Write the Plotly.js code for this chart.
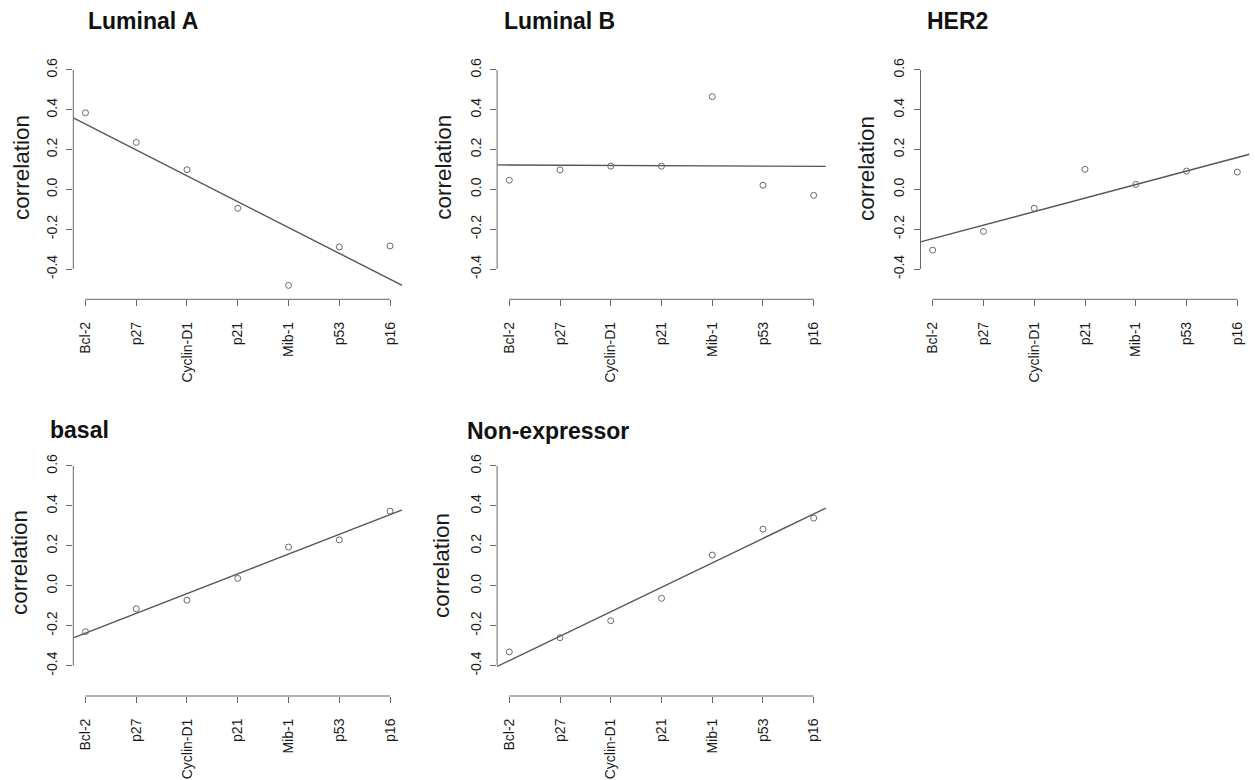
<!DOCTYPE html>
<html>
<head>
<meta charset="utf-8">
<script src="https://cdn.plot.ly/plotly-3.0.1.min.js"></script>
<style>html,body{margin:0;padding:0;background:#fff;}#chart{width:1255px;height:780px;}</style>
</head>
<body>
<div id="chart"></div>
<script>
// ---- data ----
const categories = ['Bcl-2', 'p27', 'Cyclin-D1', 'p21', 'Mib-1', 'p53', 'p16'];
const luminalA = [0.385, 0.236, 0.099, -0.095, -0.482, -0.289, -0.284];
const luminalB = [0.046, 0.098, 0.117, 0.117, 0.466, 0.021, -0.030];
const her2 = [-0.305, -0.211, -0.095, 0.101, 0.025, 0.092, 0.087];
const basal = [-0.230, -0.115, -0.072, 0.037, 0.194, 0.230, 0.374];
const nonExpressor = [-0.331, -0.260, -0.175, -0.063, 0.154, 0.284, 0.339];
const panelTitles = ['Luminal A', 'Luminal B', 'HER2', 'basal', 'Non-expressor'];
const yTickVals = [-0.4, -0.2, 0.0, 0.2, 0.4, 0.6];
const yAxisLabel = 'correlation';

// ---- layout helpers ----
const W = 1255, H = 780;
const FONT = 'Liberation Sans, Arial, Helvetica, sans-serif';
const series = [luminalA, luminalB, her2, basal, nonExpressor];
const xpos = categories.map((c, i) => i + 1);
const xPad = 0.04 * (xpos[xpos.length - 1] - xpos[0]);
const xRange = [xpos[0] - xPad, xpos[xpos.length - 1] + xPad];
const yRange = [-0.552, 0.644];

// pixel boxes [left, right, top, bottom]
const boxes = [
  [73.3, 402.2, 61.2, 299.3],
  [497.1, 825.9, 61.2, 299.3],
  [920.5, 1249.5, 61.2, 299.3],
  [73.3, 402.2, 457.2, 696.0],
  [497.1, 825.9, 457.2, 696.0]
];
// title positions [left x, center y]
const titlePos = [[86, 21.3], [502, 21.3], [925, 21.3], [48, 430], [465, 430.5]];
// y-label centers [x, y]
const ylabPos = [[21, 168], [442.7, 167], [866, 169], [19, 563], [441, 566]];

function fit(x, y) {
  const n = x.length;
  const mx = x.reduce((a, b) => a + b, 0) / n;
  const my = y.reduce((a, b) => a + b, 0) / n;
  let sxy = 0, sxx = 0;
  for (let i = 0; i < n; i++) { sxy += (x[i] - mx) * (y[i] - my); sxx += (x[i] - mx) ** 2; }
  const b = sxy / sxx;
  return { a: my - b * mx, b: b };
}

const traces = [];
const layout = {
  width: W, height: H,
  margin: { l: 0, r: 0, t: 0, b: 0 },
  paper_bgcolor: '#ffffff', plot_bgcolor: '#ffffff',
  showlegend: false,
  font: { family: FONT, color: '#1a1a1a' },
  annotations: [], shapes: []
};

series.forEach((vals, k) => {
  const n = k + 1;
  const xa = 'x' + (n === 1 ? '' : n), ya = 'y' + (n === 1 ? '' : n);
  const [l, r, t, b] = boxes[k];
  const f = fit(xpos, vals);
  traces.push({
    type: 'scatter', mode: 'lines', xaxis: xa, yaxis: ya,
    x: xRange, y: xRange.map(v => f.a + f.b * v),
    line: { color: '#555555', width: 1.4 }, hoverinfo: 'skip'
  });
  traces.push({
    type: 'scatter', mode: 'markers', xaxis: xa, yaxis: ya,
    x: xpos, y: vals, text: categories,
    marker: { symbol: 'circle-open', size: 6, color: '#6a6a6a', line: { width: 1, color: '#6a6a6a' } }
  });
  layout['xaxis' + (n === 1 ? '' : n)] = {
    domain: [l / W, r / W], anchor: ya, range: xRange,
    showgrid: false, zeroline: false, showline: false,
    tickmode: 'array', tickvals: xpos, ticktext: categories,
    ticks: 'outside', ticklen: 6, tickwidth: 1, tickcolor: '#666666',
    tickangle: -90, ticklabelstandoff: 10,
    tickfont: { family: FONT, size: 14, color: '#1a1a1a' }
  };
  layout['yaxis' + (n === 1 ? '' : n)] = {
    domain: [1 - b / H, 1 - t / H], anchor: xa, range: yRange,
    showgrid: false, zeroline: false, showline: false,
    tickmode: 'array', tickvals: yTickVals, ticktext: yTickVals.map(v => v.toFixed(1)),
    ticks: 'outside', ticklen: 6, tickwidth: 1, tickcolor: '#666666',
    tickangle: -90, ticklabelstandoff: 4,
    tickfont: { family: FONT, size: 14, color: '#1a1a1a' }
  };
  // R-style axis lines spanning first to last tick
  layout.shapes.push({
    type: 'line', xref: xa, yref: ya + ' domain',
    x0: xpos[0], x1: xpos[xpos.length - 1], y0: 0, y1: 0,
    line: { color: '#666666', width: 1 }
  });
  layout.shapes.push({
    type: 'line', xref: xa + ' domain', yref: ya,
    x0: 0, x1: 0, y0: yTickVals[0], y1: yTickVals[yTickVals.length - 1],
    line: { color: '#666666', width: 1 }
  });
  layout.annotations.push({
    text: '<b>' + panelTitles[k] + '</b>', xref: 'paper', yref: 'paper',
    x: titlePos[k][0] / W, y: 1 - titlePos[k][1] / H,
    xanchor: 'left', yanchor: 'middle', showarrow: false,
    font: { family: FONT, size: 23, color: '#111111' }
  });
  layout.annotations.push({
    text: yAxisLabel, xref: 'paper', yref: 'paper',
    x: ylabPos[k][0] / W, y: 1 - ylabPos[k][1] / H,
    xanchor: 'center', yanchor: 'middle', textangle: -90, showarrow: false,
    font: { family: FONT, size: 22.5, color: '#1a1a1a' }
  });
});

Plotly.newPlot('chart', traces, layout, { staticPlot: true, displayModeBar: false });
</script>
</body>
</html>
